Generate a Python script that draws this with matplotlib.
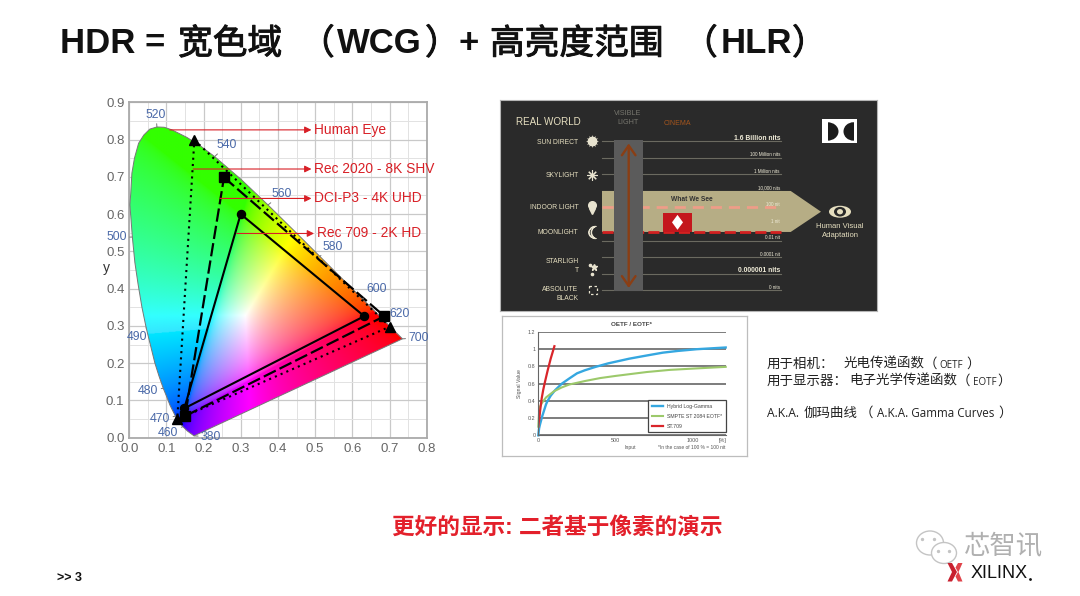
import numpy as np
import matplotlib
matplotlib.use("Agg")
import matplotlib.pyplot as plt
import matplotlib.patheffects as pe
from matplotlib.patches import Polygon, Rectangle, Ellipse

plt.rcParams['font.family'] = ['Liberation Sans', 'Noto Sans CJK SC', 'DejaVu Sans']
CJK = ['Noto Sans CJK SC', 'DejaVu Sans']

W, H = 1080, 596

# spectral locus, CIE 1931 x,y
locus_x = [0.1741, 0.1566, 0.1440, 0.1355, 0.1241, 0.1170, 0.1096, 0.1010, 0.0913, 0.0800, 0.0687, 0.0454, 0.0340,
           0.0235, 0.0150, 0.0082, 0.0040, 0.0015, 0.0039, 0.0070, 0.0139, 0.0250, 0.0389, 0.0550, 0.0743,
           0.0940, 0.1142, 0.1547, 0.1929, 0.2296, 0.3016, 0.3731, 0.4441, 0.5125, 0.5752,
           0.6270, 0.6658, 0.6915, 0.7347]
locus_y = [0.0050, 0.0177, 0.0297, 0.0399, 0.0578, 0.0720, 0.0868, 0.1090, 0.1327, 0.1650, 0.2007, 0.2950, 0.3500,
           0.4127, 0.4700, 0.5384, 0.5950, 0.6250, 0.6548, 0.7100, 0.7502, 0.7900, 0.8120, 0.8280, 0.8338,
           0.8330, 0.8262, 0.8059, 0.7816, 0.7543, 0.6923, 0.6245, 0.5547, 0.4866, 0.4242,
           0.3725, 0.3340, 0.3083, 0.2653]

# wavelength labels: text, label x, label y, locus x, locus y
wave_text = ['520', '540', '560', '580', '600', '620', '700', '380', '460', '470', '480', '490', '500']
wave_lx = [0.0717, 0.262, 0.41, 0.546, 0.665, 0.726, 0.778, 0.22, 0.105, 0.083, 0.051, 0.02, -0.034]
wave_ly = [0.866, 0.785, 0.654, 0.5125, 0.398, 0.332, 0.268, 0.002, 0.013, 0.049, 0.125, 0.271, 0.5376]
wave_px = [0.0743, 0.2296, 0.3731, 0.5125, 0.6270, 0.6915, 0.7347, 0.1741, 0.1440, 0.1241, 0.0913, 0.0454, 0.0082]
wave_py = [0.8338, 0.7543, 0.6245, 0.4866, 0.3725, 0.3083, 0.2653, 0.0050, 0.0297, 0.0578, 0.1327, 0.2950, 0.5384]

# gamut triangles
rec2020_x = [0.175, 0.701, 0.129, 0.175]
rec2020_y = [0.799, 0.298, 0.049, 0.799]
p3_x = [0.2547, 0.686, 0.150, 0.2547]
p3_y = [0.6986, 0.326, 0.058, 0.6986]
rec709_x = [0.2996, 0.632, 0.148, 0.2996]
rec709_y = [0.600, 0.326, 0.0787, 0.600]

# red callouts
call_text = ['Human Eye', 'Rec 2020 - 8K SHV', 'DCI-P3 - 4K UHD', 'Rec 709 - 2K HD']
call_x0 = [0.109, 0.172, 0.244, 0.289]
call_x1 = [0.490, 0.490, 0.490, 0.497]
call_y = [0.826, 0.721, 0.642, 0.548]

# dolby panel
row_left = ['SUN DIRECT', 'SKYLIGHT', 'INDOOR LIGHT', 'MOONLIGHT', 'STARLIGH\nT', 'ABSOLUTE\nBLACK']
row_left_pos = [0.1, 2.05, 4.0, 5.52, 7.55, 9.2]
nit_text = ['1.6 Billion nits', '100 Million nits', '1 Million nits', '10,000 nits', '100 nit', '1 nit',
            '0.01 nit', '0.0001 nit', '0.000001 nits', '0 nits']

# oetf curves
hlg_x = [0, 5, 10, 25, 50, 60, 80, 108, 152, 200, 250, 300, 370, 450, 587, 700, 804, 900, 1022, 1210]
hlg_y = [0, 0.08, 0.12, 0.22, 0.36, 0.40, 0.46, 0.523, 0.60, 0.66, 0.72, 0.755, 0.795, 0.835, 0.89, 0.927, 0.96, 0.98, 1.0, 1.02]
pq_x = [0, 5, 10, 25, 50, 100, 150, 200, 250, 300, 400, 500, 700, 850, 1000, 1210]
pq_y = [0.10, 0.26, 0.33, 0.38, 0.44, 0.51, 0.555, 0.59, 0.61, 0.63, 0.665, 0.69, 0.735, 0.76, 0.775, 0.795]
st709_x = [0, 3, 6.5, 12, 22, 32, 43, 60, 80, 104]
st709_y = [0.10, 0.15, 0.19, 0.29, 0.43, 0.53, 0.62, 0.75, 0.89, 1.035]

# page texts split where the slide changes font: text, left edge
title_latin = ['HDR =', 'WCG', '+', 'HLR']
title_latin_x = [60, 337, 459, 721]
title_cjk = ['宽色域', '（', '）', '高亮度范围', '（', '）']
title_cjk_x = [178, 300, 425, 490, 683, 792]
note_cjk = ['用于相机：', '光电传递函数', '（', '）', '用于显示器：', '电子光学传递函数', '（', '）', '伽玛曲线', '（', '）']
note_cjk_x = [767, 844, 924, 966, 767, 849, 957, 997, 804, 860, 998]
note_cjk_y = [368, 368, 368, 368, 385, 385, 385, 385, 417, 417, 417]
note_latin = ['OETF', 'EOTF', 'A.K.A.', 'A.K.A. Gamma Curves']
note_latin_x = [939, 973, 767, 877]
note_latin_y = [368, 385, 417, 417]
note_latin_size = [7.0, 7.0, 8.7, 8.4]


def px_axes(l, t, r, b):
    return fig.add_axes([l / W, 1 - b / H, (r - l) / W, (b - t) / H])


fig = plt.figure(figsize=(W / 100, H / 100), dpi=100, facecolor='white')

# page layer, in pixels
page = px_axes(0, 0, W, H)
page.set_xlim(0, W)
page.set_ylim(H, 0)
page.axis('off')

for t, x in zip(title_latin, title_latin_x):
    page.text(x, 53, t, fontsize=25, fontweight='bold', va='baseline', color='#111111')
for t, x in zip(title_cjk, title_cjk_x):
    page.text(x, 54, t, fontsize=25, family=CJK, va='baseline', color='#111111',
              path_effects=[pe.withStroke(linewidth=0.7, foreground='#111111')])
page.text(557, 527, '更好的显示: 二者基于像素的演示', fontsize=16.3, fontweight='bold', color='#e3202b',
          ha='center', va='center')
page.text(57, 578, '>> 3', fontsize=9, fontweight='bold', va='center', color='#111111')
for t, x, y in zip(note_cjk, note_cjk_x, note_cjk_y):
    page.text(x, y, t, fontsize=9.7, family=CJK, va='baseline', color='#222222')
for t, x, y, fs in zip(note_latin, note_latin_x, note_latin_y, note_latin_size):
    page.text(x, y, t, fontsize=fs, family=['Open Sans'], va='baseline', color='#222222')

# watermark and logo
page.add_patch(Ellipse((930, 543), 27, 24, fc='white', ec='#c4c4c4', lw=1))
page.add_patch(Ellipse((944, 553), 25, 21, fc='white', ec='#c4c4c4', lw=1))
page.plot([922, 934, 938, 949], [539, 539, 551, 551], 'o', color='#c4c4c4', ms=1.4)
page.text(1004, 547, '芯智讯', fontsize=19, color='#b0b0b0', ha='center', va='center', family=CJK)
page.add_patch(Polygon([(947.5, 563), (952, 563), (957, 572), (952, 581.5), (947.5, 581.5), (952, 572)], fc='#c8202f', ec='none'))
page.add_patch(Polygon([(962.5, 563), (958, 563), (955.5, 567.5), (958, 572), (955.5, 576.5), (958, 581.5), (962.5, 581.5), (958.5, 572)],
                       fc='#e0434a', ec='none'))
page.text(970.5, 573, 'XILINX', fontsize=13, color='#111111', va='center')
page.plot([1029.5], [578.5], 'o', color='#111111', ms=1)

# chromaticity diagram
ax = px_axes(129.3, 102.3, 426.7, 437.7)
ax.set_xlim(0, 0.8)
ax.set_ylim(0, 0.9)
ax.set_xticks(np.arange(0, 0.81, 0.1))
ax.set_yticks(np.arange(0, 0.91, 0.1))
ax.set_xticks(np.arange(0, 0.81, 0.05), minor=True)
ax.set_yticks(np.arange(0, 0.91, 0.05), minor=True)
ax.grid(True, which='major', color='#c9c9c9', lw=0.9)
ax.grid(True, which='minor', color='#e2e2e2', lw=0.7)
ax.set_axisbelow(True)
ax.tick_params(which='both', length=0, labelsize=9.5, labelcolor='#666666', pad=3.5)
ax.set_xticklabels(['%.1f' % v for v in np.arange(0, 0.81, 0.1)])
ax.set_yticklabels(['%.1f' % v for v in np.arange(0, 0.91, 0.1)])
for s in ax.spines.values():
    s.set_color('#aaaaaa')
    s.set_linewidth(1.3)
ax.text(-0.061, 0.455, 'y', fontsize=10, color='#333333', ha='center', va='center')

gx, gy = np.meshgrid(np.linspace(0, 0.8, 500), np.linspace(0.001, 0.9, 560))
X = gx / gy
Z = (1 - gx - gy) / gy
r = 3.2406 * X - 1.5372 - 0.4986 * Z
g = -0.9689 * X + 1.8758 + 0.0415 * Z
b = 0.0557 * X - 0.2040 + 1.0570 * Z
rgb = np.clip(np.dstack([r, g, b]), 0, None)
rgb = rgb / rgb.max(axis=2, keepdims=True)
rgb = rgb ** (1 / 2.5)
rgb[..., 0] = np.maximum(rgb[..., 0], 0.2 * (rgb[..., 1] > 0.9))
rgb[..., 2] = rgb[..., 2] ** 1.4
im = ax.imshow(rgb, origin='lower', extent=[0, 0.8, 0, 0.9], aspect='auto', zorder=2)
gamut = Polygon(np.column_stack([locus_x, locus_y]), closed=True, fc='none', ec='#777777', lw=0.7, zorder=3)
ax.add_patch(gamut)
im.set_clip_path(gamut)

ax.plot(rec2020_x, rec2020_y, color='black', lw=1.5, ls=(0, (1, 2)), zorder=4)
ax.plot(p3_x, p3_y, color='black', lw=1.6, ls=(0, (6, 1.9)), zorder=4)
ax.plot(rec709_x, rec709_y, color='black', lw=1.5, zorder=4)
ax.plot(rec2020_x[:3], rec2020_y[:3], '^', color='black', ms=7.5, zorder=5, clip_on=False)
ax.plot(p3_x[:3], p3_y[:3], 's', color='black', ms=7.5, zorder=5, clip_on=False)
ax.plot(rec709_x[:3], rec709_y[:3], 'o', color='black', ms=5.8, zorder=5, clip_on=False)

for t, lx, ly, px, py in zip(wave_text, wave_lx, wave_ly, wave_px, wave_py):
    ax.annotate(t, xy=(px, py), xytext=(lx, ly), fontsize=8.8, color='#4a69a8', ha='center', va='center',
                annotation_clip=False, zorder=6,
                arrowprops=dict(arrowstyle='-', color='#777777', lw=0.7, shrinkA=0, shrinkB=0))

for t, x0, x1, y in zip(call_text, call_x0, call_x1, call_y):
    ax.annotate('', xy=(x1, y), xytext=(x0, y), zorder=6,
                arrowprops=dict(arrowstyle='-|>', color='#d81f26', lw=0.8, mutation_scale=10,
                                shrinkA=0, shrinkB=0))
    ax.text(x1 + 0.007, y, t, fontsize=9.9, color='#d81f26', va='center', zorder=7, clip_on=False)

# dolby panel, x in pixels and y in rows of the nit scale
row0, step = 141.0, 16.6
pan = px_axes(499.7, 99.7, 877, 311)
pan.set_xlim(499.7, 877)
pan.set_ylim((311 - row0) / step, (99.7 - row0) / step)
pan.set_xticks([])
pan.set_yticks([])
pan.set_facecolor('#2a2a2a')
for s in pan.spines.values():
    s.set_color('#b5b5b5')
    s.set_linewidth(0.8)

cream = '#e6dfc0'
for i, t in enumerate(nit_text):
    pan.plot([602, 781], [i, i], color='#6b6a60', lw=0.8, zorder=1)
    bold = i in (0, 8)
    pan.text(780, i - 0.18, t, fontsize=4.9 if bold else 3.3, color='#f0ecd8', ha='right', va='center',
             fontweight='bold' if bold else 'normal', zorder=6)
pan.add_patch(Polygon([(602, 3.01), (790.7, 3.01), (821, 4.26), (790.7, 5.48), (602, 5.48)], fc='#b6ad85', ec='none', zorder=2))
pan.plot([602, 781], [4, 4], color='#ee9d88', lw=2, ls=(0, (4, 2.5)), zorder=3)
pan.plot([602, 781], [5.5, 5.5], color='#d32020', lw=2, ls=(0, (4, 1.5)), zorder=3)
pan.add_patch(Rectangle((614.3, -0.05), 29, 9.1, fc='#5b5b5b', ec='none', zorder=4))
pan.annotate('', xy=(628.7, 0.15), xytext=(628.7, 8.85), zorder=5,
             arrowprops=dict(arrowstyle='<->,head_length=0.5,head_width=0.35', color='#8a3e14', lw=1.7,
                             mutation_scale=14, shrinkA=0, shrinkB=0))
pan.add_patch(Rectangle((662.7, 4.32), 29.6, 1.14, fc='#c4171d', ec='none', zorder=4))
pan.add_patch(Polygon([(677.5, 4.45), (683, 4.9), (677.5, 5.35), (672, 4.9)], fc='white', ec='none', zorder=5))
pan.text(691.7, 3.51, 'What We See', fontsize=4.8, fontweight='bold', color='#333333', ha='center', va='center', zorder=5)

pan.text(515.7, -1.16, 'REAL WORLD', fontsize=7.1, color=cream, va='center')
pan.text(627.7, -1.4, 'VISIBLE\nLIGHT', fontsize=5.2, color='#77766e', ha='center', va='center', linespacing=1.4)
pan.text(677.7, -1.08, 'CINEMA', fontsize=5, color='#a4551d', ha='center', va='center')
for t, y in zip(row_left, row_left_pos):
    pan.text(578.5, y, t, fontsize=4.85, color=cream, ha='right', va='center', linespacing=1.35)
pan.plot([592], [0.0], 'o', color='#e8e3cf', ms=6)
pan.plot([592], [0.0], marker=(12, 1, 0), color='#e8e3cf', ms=9.5, mew=0)
pan.plot([592], [2.05], marker=(8, 2, 0), color='#e8e3cf', ms=7.5, mew=0.8)
pan.plot([592], [3.85], 'o', color='#e8e3cf', ms=5.5)
pan.plot([592], [4.22], 'v', color='#e8e3cf', ms=4.2)
pan.plot([592], [5.5], marker='$\u263e$', color='#e8e3cf', ms=9, mew=0.6)
pan.plot([594], [7.6], '*', color='#e8e3cf', ms=4.5)
pan.plot([590, 592], [7.45, 8.0], 'o', color='#e8e3cf', ms=1.6)
pan.add_patch(Rectangle((589, 8.75), 8, 0.48, fc='none', ec='#e8e3cf', lw=0.9, ls=(0, (2, 2))))
pan.text(840, 5.42, 'Human Visual\nAdaptation', fontsize=5.5, color=cream, ha='center', va='center', linespacing=1.35)
pan.add_patch(Ellipse((840, 4.26), 22, 0.72, fc=cream, ec='none'))
pan.add_patch(Ellipse((840, 4.26), 12, 0.58, fc='#2a2a2a', ec='none'))
pan.add_patch(Ellipse((840, 4.26), 6, 0.32, fc=cream, ec='none'))

# double-D logo
pan.add_patch(Rectangle((822, -1.33), 35, 1.45, fc='white', ec='none', zorder=5))
d_left = Ellipse((827.5, -0.575), 22, 1.11, fc='#1b1b1b', ec='none', zorder=6)
pan.add_patch(d_left)
d_left.set_clip_path(Rectangle((827.5, -1.33), 15, 1.45, transform=pan.transData))
d_right = Ellipse((853.5, -0.575), 20, 1.11, fc='#1b1b1b', ec='none', zorder=6)
pan.add_patch(d_right)
d_right.set_clip_path(Rectangle((840, -1.33), 13.5, 1.45, transform=pan.transData))

# oetf / eotf chart
box = px_axes(501.7, 316, 746.7, 456)
box.set_xticks([])
box.set_yticks([])
for s in box.spines.values():
    s.set_color('#bdbdbd')
    s.set_linewidth(0.9)

cur = px_axes(538.3, 332, 725.7, 435.3)
cur.set_xlim(0, 1210)
cur.set_ylim(0, 1.2)
cur.set_xticks([0, 500, 1000])
cur.set_yticks([0, 0.2, 0.4, 0.6, 0.8, 1.0, 1.2])
cur.set_yticklabels(['0', '0.2', '0.4', '0.6', '0.8', '1', '1.2'])
cur.grid(True, axis='y', color='#666666', lw=1.2)
cur.set_axisbelow(True)
cur.tick_params(length=0, labelsize=3.9, labelcolor='#555555', pad=2)
for name, s in cur.spines.items():
    s.set_visible(name in ('left', 'bottom'))
    s.set_color('#666666')
cur.plot(hlg_x, hlg_y, color='#35a7e0', lw=1.7, label='Hybrid Log-Gamma', clip_on=False)
cur.plot(pq_x, pq_y, color='#9cc96b', lw=1.5, label='SMPTE ST 2084 EOTF*', clip_on=False)
cur.plot(st709_x, st709_y, color='#d9252a', lw=1.6, label='ST.709')
leg = cur.legend(loc='lower right', bbox_to_anchor=(1.0, 0.03), fontsize=3.7, fancybox=False, framealpha=1,
                 edgecolor='#444444', labelcolor='#444444', handlelength=2.1, borderpad=0.7, labelspacing=0.95,
                 borderaxespad=0, handletextpad=0.8)
leg.get_frame().set_linewidth(0.9)
cur.text(0.498, 1.077, 'OETF / EOTF*', transform=cur.transAxes, fontsize=4.5, fontweight='bold', color='#444444',
         ha='center', va='center')
cur.text(-0.101, 0.5, 'Signal Value', transform=cur.transAxes, fontsize=3.7, color='#555555', rotation=90,
         ha='center', va='center')
cur.text(592, -0.136, 'Input', fontsize=3.7, color='#555555', ha='center', va='center')
cur.text(1208, -0.136, '*In the case of 100 % = 100 nit', fontsize=3.5, color='#555555', ha='right', va='center')
cur.text(1190, -0.055, '[%]', fontsize=3.9, color='#555555', ha='center', va='center')

fig.savefig('out.png', dpi=100)
